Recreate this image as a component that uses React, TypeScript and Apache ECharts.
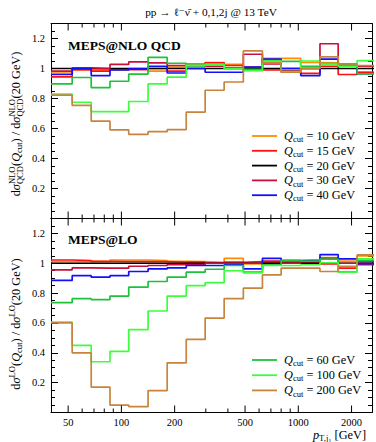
import React, { useEffect, useRef } from 'react';
import * as echarts from 'echarts';

// ---------- data ----------
const binEdges = [40, 52.7, 67.5, 86.2, 110, 141.5, 181.5, 232.5, 297.5, 381, 489, 627, 800, 1032, 1326, 1681, 2152, 2750];

// upper panel: MEPS@NLO QCD ratios to Qcut = 20 GeV
const nloQ10 = [0.97, 0.99, 0.993, 0.99, 1.0, 0.982, 1.01, 1.027, 1.04, 1.027, 1.0, 1.068, 1.068, 1.04, 1.038, 1.03, 0.975];
const nloQ15 = [0.944, 0.993, 0.982, 0.998, 0.993, 1.0, 0.982, 1.027, 1.038, 1.02, 1.009, 0.99, 0.976, 0.967, 1.015, 0.96, 0.975];
const nloQ20 = [1, 1, 1, 1, 1, 1, 1, 1, 1, 1, 1, 1, 1, 1, 1, 1, 1];
const nloQ30 = [0.982, 1.004, 1.0, 1.027, 1.044, 1.038, 1.02, 1.02, 1.015, 1.005, 1.095, 1.03, 0.985, 1.0, 1.165, 1.027, 1.015];
const nloQ40 = [0.96, 1.0, 0.953, 0.99, 0.998, 1.015, 0.97, 1.0, 0.975, 0.975, 1.01, 1.062, 1.0, 0.953, 1.062, 1.02, 0.965];
const nloQ60 = [0.897, 0.94, 0.873, 0.915, 0.963, 1.074, 1.035, 1.01, 1.03, 1.0, 0.995, 1.053, 1.047, 1.015, 1.033, 1.024, 0.964];
const nloQ100 = [0.83, 0.775, 0.713, 0.713, 0.78, 0.897, 0.942, 1.022, 1.027, 1.0, 0.985, 1.05, 0.98, 1.05, 1.03, 1.015, 1.053];
const nloQ200 = [0.822, 0.754, 0.649, 0.591, 0.561, 0.579, 0.592, 0.709, 0.855, 0.91, 1.117, 1.038, 0.975, 1.0, 1.078, 1.03, 1.02];

// lower panel: MEPS@LO ratios to Qcut = 20 GeV
const loQ10 = [1.011, 1.013, 1.011, 1.022, 1.022, 1.018, 1.013, 1.011, 1.007, 1.033, 0.996, 1.007, 1.015, 1.011, 1.038, 1.015, 1.05];
const loQ15 = [1.022, 1.018, 1.013, 1.011, 1.011, 1.011, 1.007, 1.007, 1.002, 1.007, 1.011, 1.002, 1.002, 1.007, 0.996, 0.967, 1.011];
const loQ20 = [1, 1, 1, 1, 1, 1, 1, 1, 1, 1, 1, 1, 1, 1, 1, 1, 1];
const loQ30 = [0.956, 0.969, 0.967, 0.967, 0.98, 0.985, 0.991, 0.991, 1.0, 1.0, 1.0, 1.015, 1.0, 1.015, 1.033, 1.0, 0.99];
const loQ40 = [0.885, 0.917, 0.907, 0.917, 0.945, 0.962, 0.969, 0.985, 0.985, 0.99, 0.962, 1.033, 1.018, 1.022, 1.058, 1.029, 0.998];
const loQ60 = [0.736, 0.763, 0.756, 0.78, 0.84, 0.878, 0.907, 0.94, 0.96, 0.985, 0.94, 0.99, 1.02, 1.015, 1.028, 0.943, 1.02];
const loQ100 = [0.605, 0.45, 0.34, 0.41, 0.556, 0.68, 0.78, 0.85, 0.87, 0.95, 0.935, 0.985, 0.985, 0.99, 1.003, 0.94, 1.03];
const loQ200 = [0.6, 0.4, 0.17, 0.05, 0.04, 0.147, 0.333, 0.49, 0.633, 0.763, 0.833, 0.922, 0.967, 0.967, 0.945, 0.98, 1.056];

const cutLabels = ['10', '15', '20', '30', '40', '60', '100', '200'];
const cutColors = ['#ff8c00', '#ff1010', '#000000', '#c8103c', '#1010ff', '#1ec23a', '#3cff3c', '#c8843c'];
const nloValues = [nloQ10, nloQ15, nloQ20, nloQ30, nloQ40, nloQ60, nloQ100, nloQ200];
const loValues = [loQ10, loQ15, loQ20, loQ30, loQ40, loQ60, loQ100, loQ200];
const topLegendIdx = [0, 1, 2, 3, 4];
const bottomLegendIdx = [5, 6, 7];

const xMin = 40;
const xMax = 2610;
const xMajorTicks = [50, 100, 200, 500, 1000, 2000];
const xMajorLabels = ['50', '100', '200', '500', '1000', '2000'];
const xMinorTicks = [60, 70, 80, 90, 300, 400, 600, 700, 800, 900];
const yMin = 0;
const yMax = 1.3;
const yStep = 0.2;

// ---------- text helpers ----------
const FF = '"Liberation Serif", "DejaVu Serif", serif';
type Piece = { t: string; s: number; dy?: number; it?: boolean; b?: boolean; stack?: boolean };
let mctx: CanvasRenderingContext2D | null = null;
const fontStr = (p: Piece) => `${p.it ? 'italic ' : ''}${p.b ? 'bold ' : ''}${p.s}px ${FF}`;
function measure(p: Piece): number {
  if (!mctx) mctx = document.createElement('canvas').getContext('2d');
  if (!mctx) return p.t.length * p.s * 0.5;
  mctx.font = fontStr(p);
  return mctx.measureText(p.t).width;
}
function composite(pieces: Piece[], x: number, y: number, anchor: 'left' | 'center' | 'right', rotation = 0) {
  const pos: number[] = [];
  let cur = 0;
  for (let i = 0; i < pieces.length; i++) {
    const p = pieces[i];
    pos.push(cur);
    const w = measure(p);
    if (p.stack && i + 1 < pieces.length) {
      const w2 = measure(pieces[i + 1]);
      pos.push(cur);
      i++;
      cur += Math.max(w, w2);
    } else cur += w;
  }
  const off = anchor === 'left' ? 0 : anchor === 'center' ? -cur / 2 : -cur;
  return {
    type: 'group',
    x,
    y,
    rotation,
    children: pieces.map((p, i) => ({
      type: 'text',
      x: pos[i] + off,
      y: p.dy || 0,
      style: { text: p.t, font: fontStr(p), fill: '#000', textAlign: 'left', textVerticalAlign: 'middle' },
    })),
  };
}

const legendPieces = (cut: string): Piece[] => [
  { t: 'Q', s: 12.3, it: true },
  { t: 'cut', s: 8.6, dy: 3.2 },
  { t: ` = ${cut} GeV`, s: 12.3 },
];

function histData(values: number[]) {
  return binEdges.map((e, i) => [e, values[Math.min(i, values.length - 1)]]);
}

export default function App() {
  const ref = useRef<HTMLDivElement>(null);
  useEffect(() => {
    if (!ref.current) return;
    const chart = echarts.init(ref.current, null, { renderer: 'svg' });

    const grids = [
      { left: 51, top: 23.5, width: 321, height: 195 },
      { left: 51, top: 218.5, width: 321, height: 194 },
    ];
    const lineStyleFrame = { color: '#000', width: 1 };
    const xAxes: any[] = [];
    const yAxes: any[] = [];
    [0, 1].forEach((g) => {
      ['bottom', 'top'].forEach((position) => {
        xAxes.push({
          type: 'log',
          logBase: 10,
          gridIndex: g,
          position,
          min: xMin,
          max: xMax,
          axisLine: { show: true, onZero: false, lineStyle: lineStyleFrame },
          axisTick: { show: false },
          axisLabel: { show: false },
          splitLine: { show: false },
          minorTick: { show: false },
        });
      });
      ['left', 'right'].forEach((position) => {
        yAxes.push({
          type: 'value',
          gridIndex: g,
          position,
          min: yMin,
          max: yMax,
          interval: yStep,
          axisLine: { show: true, onZero: false, lineStyle: lineStyleFrame },
          axisTick: { show: true, inside: true, length: 7, lineStyle: lineStyleFrame },
          minorTick: { show: true, splitNumber: 4, length: 4, lineStyle: lineStyleFrame },
          splitLine: { show: false },
          minorSplitLine: { show: false },
          axisLabel: {
            show: position === 'left',
            margin: 6,
            color: '#000',
            fontFamily: FF,
            fontSize: 10.5,
            formatter: (v: number) => (v < 0.01 || v > 1.25 ? '' : String(Math.round(v * 10) / 10)),
          },
        });
      });
    });

    const series: any[] = [];
    const addPanel = (g: number, values: number[][]) => {
      values.forEach((vals, k) => {
        series.push({
          type: 'line',
          name: `Q_cut = ${cutLabels[k]} GeV`,
          xAxisIndex: g * 2,
          yAxisIndex: g * 2,
          step: 'end',
          symbol: 'none',
          showSymbol: false,
          silent: true,
          color: cutColors[k],
          lineStyle: { color: cutColors[k], width: 1.7 },
          data: histData(vals),
          z: 2,
        });
      });
      const tickData = [...xMajorTicks.map((v) => [v, 1]), ...xMinorTicks.map((v) => [v, 0])];
      series.push({
        type: 'custom',
        xAxisIndex: g * 2,
        yAxisIndex: g * 2,
        silent: true,
        z: 5,
        clip: false,
        data: tickData,
        renderItem: (params: any, api: any) => {
          const v = api.value(0);
          const major = api.value(1) === 1;
          const pb = api.coord([v, yMin]);
          const pt = api.coord([v, yMax]);
          const len = major ? 7 : 4;
          const children: any[] = [
            { type: 'line', shape: { x1: pb[0], y1: pb[1], x2: pb[0], y2: pb[1] - len }, style: { stroke: '#000', lineWidth: 1 } },
            { type: 'line', shape: { x1: pt[0], y1: pt[1], x2: pt[0], y2: pt[1] + len }, style: { stroke: '#000', lineWidth: 1 } },
          ];
          if (g === 1 && major) {
            children.push({
              type: 'text',
              x: pb[0],
              y: pb[1] + 10,
              style: {
                text: xMajorLabels[params.dataIndex],
                font: `10.5px ${FF}`,
                fill: '#000',
                textAlign: 'center',
                textVerticalAlign: 'middle',
              },
            });
          }
          return { type: 'group', children };
        },
      });
    };
    addPanel(0, nloValues);
    addPanel(1, loValues);

    const graphics: any[] = [];
    // title
    graphics.push({
      type: 'text',
      x: 211,
      y: 12.3,
      style: { text: 'pp → ℓ⁻ν̄ + 0,1,2j @ 13 TeV', font: `11.3px ${FF}`, fill: '#000', textAlign: 'center', textVerticalAlign: 'middle' },
    });
    graphics.push({
      type: 'text',
      x: 68,
      y: 45,
      style: { text: 'MEPS@NLO QCD', font: `bold 13.5px ${FF}`, fill: '#000', textAlign: 'left', textVerticalAlign: 'middle' },
    });
    graphics.push({
      type: 'text',
      x: 68,
      y: 239,
      style: { text: 'MEPS@LO', font: `bold 13.5px ${FF}`, fill: '#000', textAlign: 'left', textVerticalAlign: 'middle' },
    });
    // legends
    const topRows = [136, 150.8, 165.6, 180.4, 195.2];
    topLegendIdx.forEach((k, r) => {
      graphics.push({ type: 'line', shape: { x1: 252, y1: topRows[r], x2: 277, y2: topRows[r] }, style: { stroke: cutColors[k], lineWidth: 1.8 } });
      graphics.push(composite(legendPieces(cutLabels[k]), 284, topRows[r], 'left'));
    });
    const botRows = [360, 375.2, 390.4];
    bottomLegendIdx.forEach((k, r) => {
      graphics.push({ type: 'line', shape: { x1: 252, y1: botRows[r], x2: 277, y2: botRows[r] }, style: { stroke: cutColors[k], lineWidth: 1.8 } });
      graphics.push(composite(legendPieces(cutLabels[k]), 284, botRows[r], 'left'));
    });
    // y axis titles
    const ys = 12.3;
    const ss = 8.6;
    graphics.push(
      composite(
        [
          { t: 'd', s: ys },
          { t: 'σ', s: ys, it: true },
          { t: 'NLO', s: ss, dy: -4.5, stack: true },
          { t: 'QCD', s: ss, dy: 3.6 },
          { t: '(', s: ys },
          { t: 'Q', s: ys, it: true },
          { t: 'cut', s: ss, dy: 3.4 },
          { t: ') / d', s: ys },
          { t: 'σ', s: ys, it: true },
          { t: 'NLO', s: ss, dy: -4.5, stack: true },
          { t: 'QCD', s: ss, dy: 3.6 },
          { t: '(20 GeV)', s: ys },
        ],
        16,
        124,
        'center',
        Math.PI / 2
      )
    );
    graphics.push(
      composite(
        [
          { t: 'd', s: ys },
          { t: 'σ', s: ys, it: true },
          { t: 'LO', s: ss, dy: -4.5 },
          { t: '(', s: ys },
          { t: 'Q', s: ys, it: true },
          { t: 'cut', s: ss, dy: 3.4 },
          { t: ') / d', s: ys },
          { t: 'σ', s: ys, it: true },
          { t: 'LO', s: ss, dy: -4.5 },
          { t: '(20 GeV)', s: ys },
        ],
        16,
        324,
        'center',
        Math.PI / 2
      )
    );
    // x axis title
    graphics.push(
      composite(
        [
          { t: 'p', s: 12.3, it: true },
          { t: 'T,j', s: 8.6, dy: 3.4 },
          { t: '1', s: 6.5, dy: 5.5 },
          { t: ' [GeV]', s: 12.3 },
        ],
        366,
        434.5,
        'right'
      )
    );

    chart.setOption({
      animation: false,
      backgroundColor: '#fff',
      grid: grids,
      xAxis: xAxes,
      yAxis: yAxes,
      series,
      graphic: { elements: graphics },
    });
    return () => chart.dispose();
  }, []);
  return <div ref={ref} style={{ position: 'absolute', left: 0, top: 0, width: 376, height: 442 }} />;
}
